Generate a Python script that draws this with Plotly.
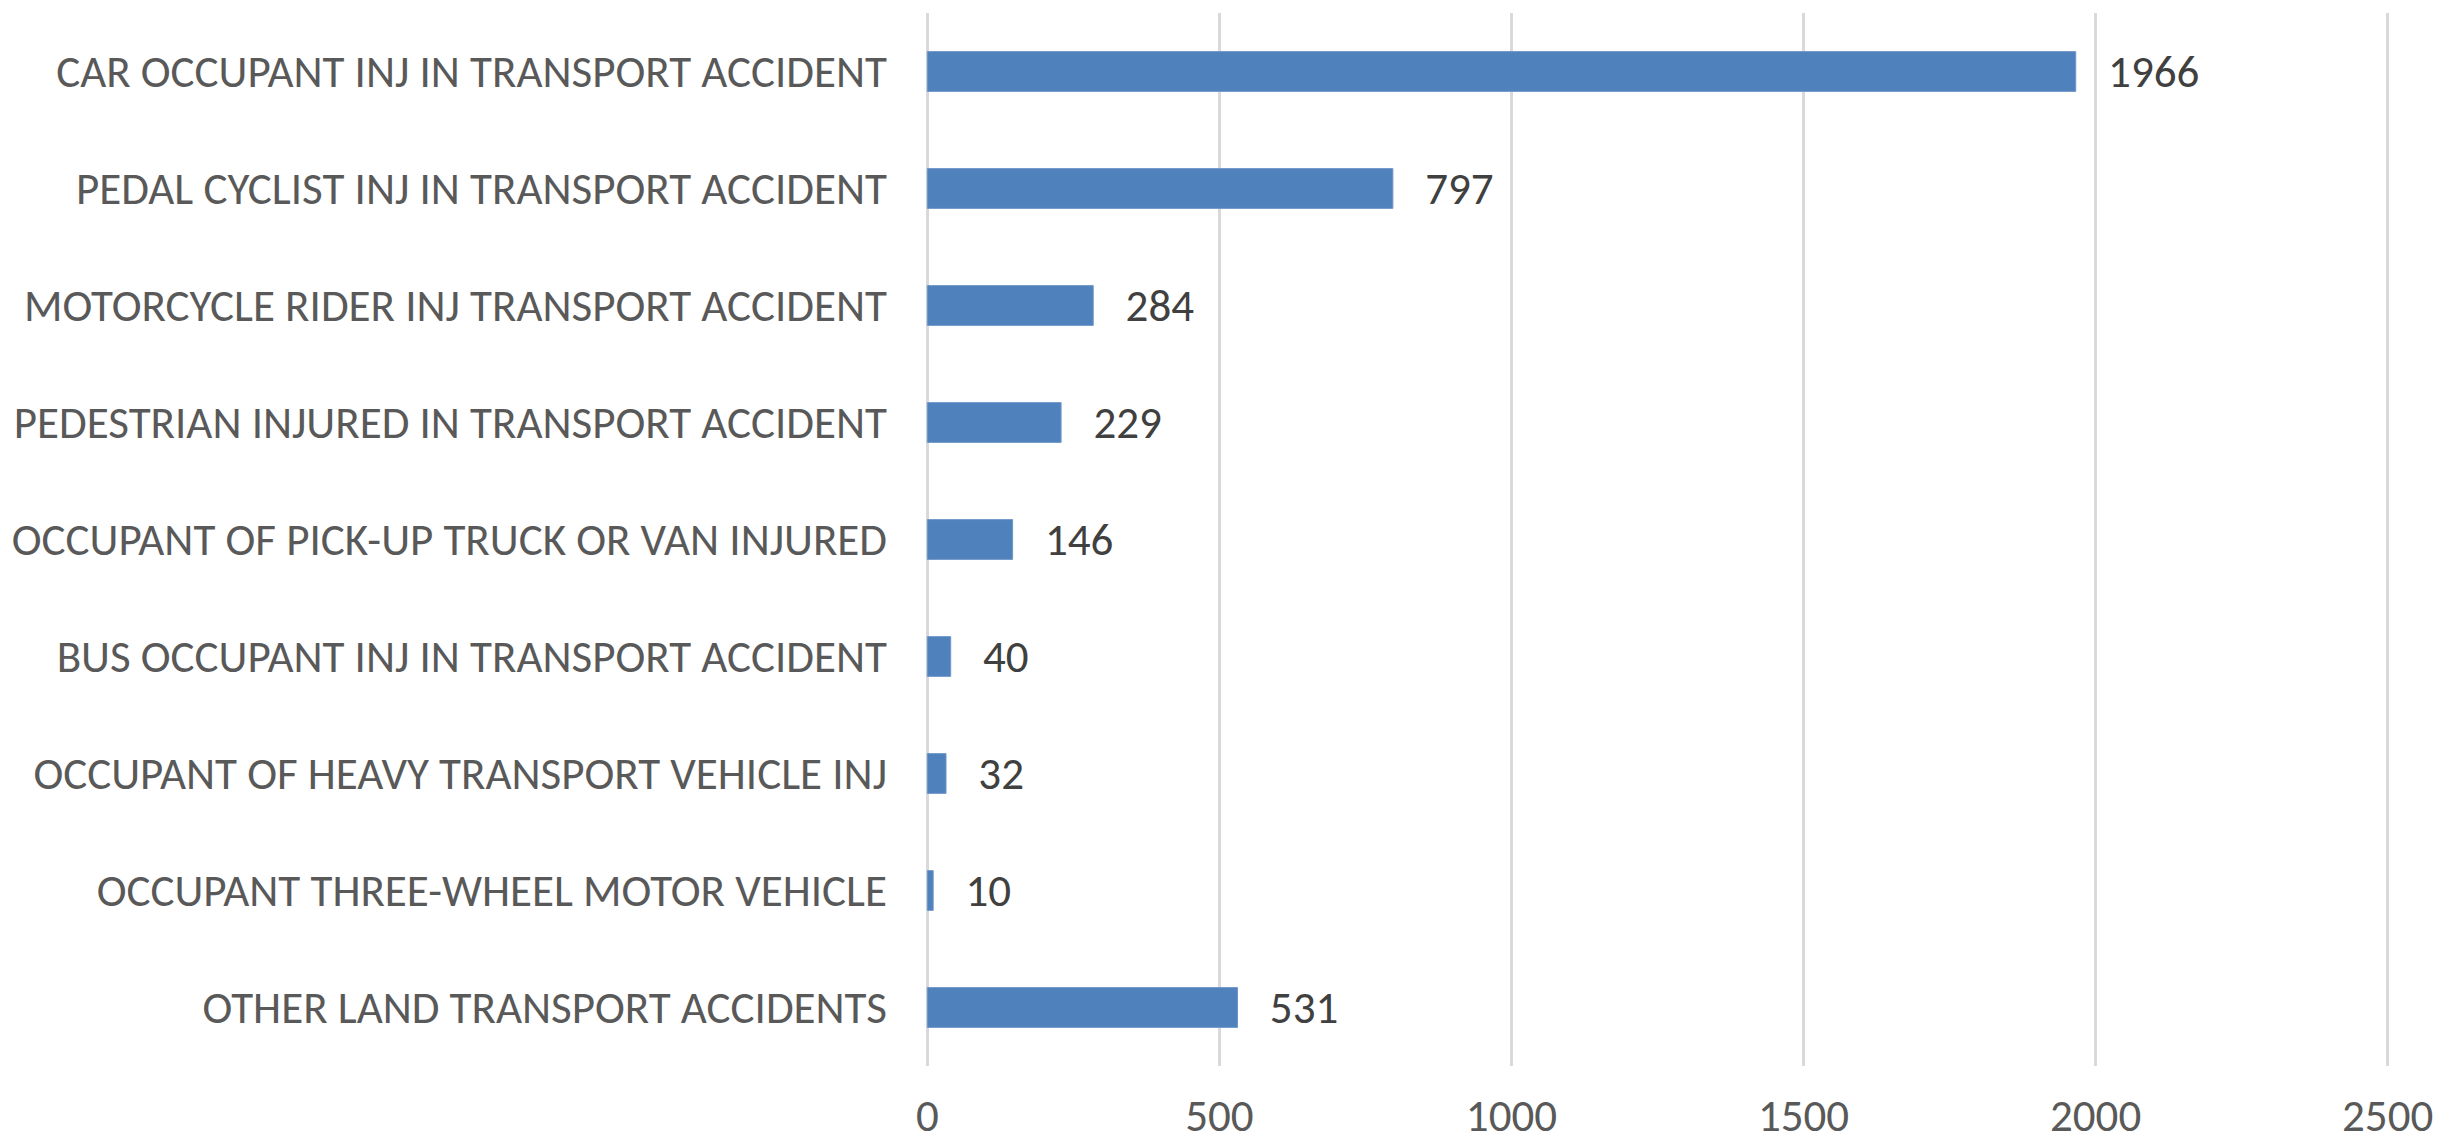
import plotly.graph_objects as go

categories = [
    "CAR OCCUPANT INJ IN TRANSPORT ACCIDENT",
    "PEDAL CYCLIST INJ IN TRANSPORT ACCIDENT",
    "MOTORCYCLE RIDER INJ TRANSPORT ACCIDENT",
    "PEDESTRIAN INJURED IN TRANSPORT ACCIDENT",
    "OCCUPANT OF PICK-UP TRUCK OR VAN INJURED",
    "BUS OCCUPANT INJ IN TRANSPORT ACCIDENT",
    "OCCUPANT OF HEAVY TRANSPORT VEHICLE INJ",
    "OCCUPANT THREE-WHEEL MOTOR VEHICLE",
    "OTHER LAND TRANSPORT ACCIDENTS",
]
values = [1966, 797, 284, 229, 146, 40, 32, 10, 531]
x_ticks = [0, 500, 1000, 1500, 2000, 2500]

FONT = "Carlito, Roboto Condensed, Liberation Sans Narrow, sans-serif"

fig = go.Figure(
    go.Bar(
        x=values,
        y=categories,
        orientation="h",
        marker=dict(color="#4f81bd", line=dict(color="#6f97c9", width=1)),
        width=0.34,
        text=[f"  \u2009{v}" for v in values],
        textposition="outside",
        constraintext="none",
        textfont=dict(family=FONT, size=45, color="#404040"),
        cliponaxis=False,
        hoverinfo="x+y",
    )
)

fig.update_layout(
    width=2440,
    height=1143,
    paper_bgcolor="white",
    plot_bgcolor="white",
    margin=dict(l=925, r=50, t=13, b=77, autoexpand=False),
    showlegend=False,
    font=dict(family=FONT, size=45, color="#595959"),
)
fig.update_xaxes(
    range=[-4, 2504],
    tickvals=x_ticks,
    ticktext=[str(t) for t in x_ticks],
    showgrid=True,
    gridcolor="#d9d9d9",
    gridwidth=3,
    zeroline=False,
    showline=False,
    ticks="",
    automargin=False,
    ticklabelstandoff=19,
    tickfont=dict(family=FONT, size=45, color="#595959"),
)
fig.update_yaxes(
    autorange="reversed",
    showgrid=False,
    zeroline=False,
    showline=False,
    ticks="",
    automargin=False,
    ticklabelstandoff=37,
    tickfont=dict(family=FONT, size=45, color="#595959"),
)

fig.write_html(
    "out.html",
    config={"displayModeBar": False},
    post_script="document.body.style.margin='0';document.body.style.overflow='hidden';",
)
